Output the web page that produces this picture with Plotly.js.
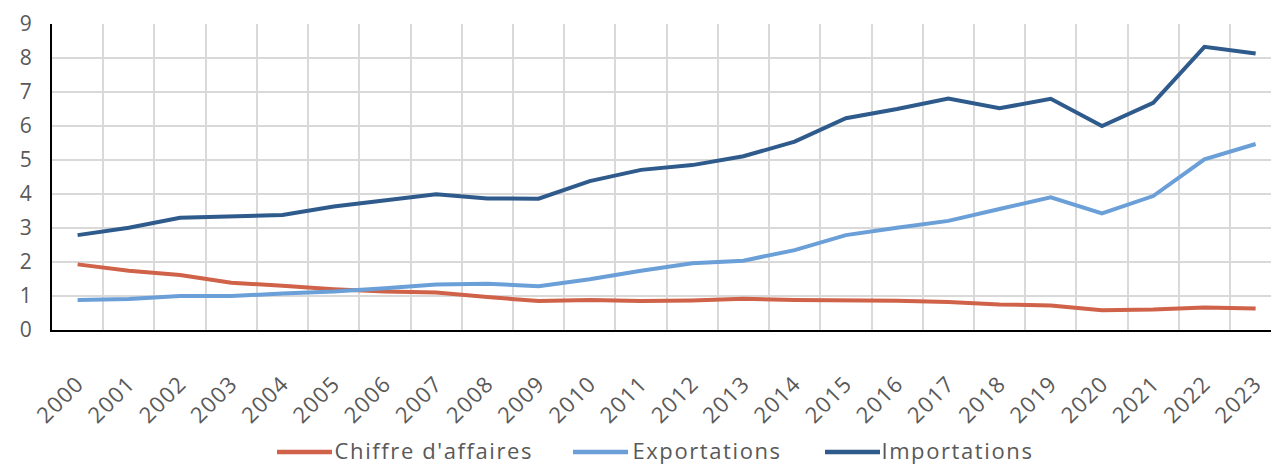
<!DOCTYPE html>
<html>
<head>
<meta charset="utf-8">
<script src="https://cdn.plot.ly/plotly-3.0.1.min.js"></script>
<style>
html,body{margin:0;padding:0;background:#fff;}
#chart{width:1271px;height:464px;}
#chart .xtick text{letter-spacing:1.3px;}
#chart .annotation-text{letter-spacing:1.6px;}
</style>
</head>
<body>
<div id="chart"></div>
<script>
const years = ["2000","2001","2002","2003","2004","2005","2006","2007","2008","2009","2010","2011","2012","2013","2014","2015","2016","2017","2018","2019","2020","2021","2022","2023"];
const chiffreAffaires = [1.93,1.74,1.62,1.39,1.30,1.20,1.13,1.10,0.97,0.85,0.88,0.85,0.87,0.92,0.88,0.88,0.86,0.82,0.75,0.72,0.58,0.60,0.66,0.63];
const exportations = [0.88,0.91,1.00,1.00,1.07,1.13,1.23,1.34,1.36,1.29,1.49,1.74,1.96,2.04,2.35,2.79,3.01,3.21,3.56,3.90,3.43,3.94,5.02,5.47];
const importations = [2.79,3.01,3.30,3.34,3.38,3.63,3.82,3.99,3.87,3.86,4.38,4.71,4.85,5.11,5.54,6.23,6.50,6.81,6.52,6.80,6.00,6.68,8.33,8.13];
const seriesNames = ["Chiffre d'affaires","Exportations","Importations"];
const yTicks = [0,1,2,3,4,5,6,7,8,9];

const colors = ["#CF6249","#6A9FD8","#2E5A8C"];
const data = [chiffreAffaires, exportations, importations].map((vals,i)=>({
  type:"scatter", mode:"lines", x:years, y:vals, name:seriesNames[i],
  line:{color:colors[i], width:4}, showlegend:false
}));

// Custom legend (Excel-style long line symbols), positioned in pixels
const W = 1271, H = 464, ML = 52, MR = 0, MT = 24, MB = 134;
const PW = W - ML - MR, PH = H - MT - MB;
const px = x => (x - ML) / PW;
const py = y => (H - MB - y) / PH;
const legendY = 449.5;
const legendLineStart = [277, 573, 825];
const legendTextCenter = [434, 707, 957];
const legendLen = 55;
const shapes = [], annotations = [];
seriesNames.forEach((name,i)=>{
  shapes.push({type:"line", xref:"paper", yref:"paper",
    x0:px(legendLineStart[i]), x1:px(legendLineStart[i]+legendLen),
    y0:py(legendY+2.5), y1:py(legendY+2.5),
    line:{color:colors[i], width:4.5}});
  annotations.push({xref:"paper", yref:"paper", x:px(legendTextCenter[i]), y:py(legendY),
    xanchor:"center", yanchor:"middle", text:name, showarrow:false, borderpad:0,
    font:{family:"'Open Sans', sans-serif", size:22, color:"#595959"}});
});

const fontFam = "'Open Sans', sans-serif";
const layout = {
  width:W, height:H,
  margin:{l:ML, r:MR, t:MT, b:MB, pad:0},
  paper_bgcolor:"#fff", plot_bgcolor:"#fff",
  font:{family:fontFam, size:20, color:"#595959"},
  showlegend:false,
  shapes:shapes, annotations:annotations,
  xaxis:{type:"category", range:[-0.5, 23.3], tickson:"boundaries",
         showgrid:true, gridcolor:"#D9D9D9", gridwidth:2,
         showline:true, linecolor:"#000", linewidth:2,
         ticks:"", tickangle:-45, ticklabelstandoff:30, tickfont:{size:22, color:"#595959"},
         zeroline:false, fixedrange:true, automargin:false},
  yaxis:{range:[0,9], tickvals:yTicks, ticktext:yTicks.map(String),
         showgrid:true, gridcolor:"#D9D9D9", gridwidth:2,
         showline:true, linecolor:"#000", linewidth:2,
         ticks:"", ticklabelstandoff:14, tickfont:{size:21, color:"#595959"},
         zeroline:false, fixedrange:true, automargin:false}
};
Plotly.newPlot("chart", data, layout, {displayModeBar:false, staticPlot:true});
</script>
</body>
</html>
